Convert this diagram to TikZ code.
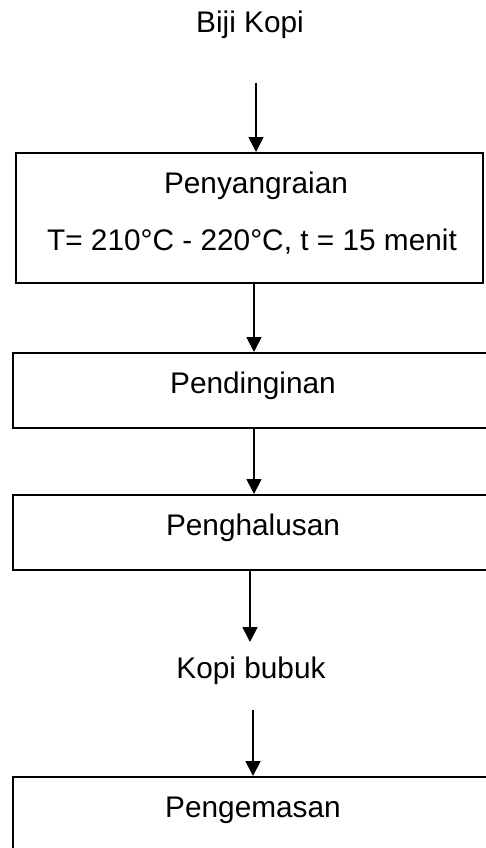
\documentclass[tikz,border=0pt]{standalone}
\usepackage{fontspec}
\setmainfont{Liberation Sans}
\usetikzlibrary{arrows.meta}
\begin{document}
\begin{tikzpicture}[x=1pt,y=-1pt,
  lbl/.style={anchor=base, inner sep=0pt, font=\fontsize{29.8}{35}\selectfont},
  stepbox/.style={draw, line width=2pt, inner sep=0pt},
  arr/.style={-{Triangle[width=15pt,length=15pt]}, line width=1.8pt}]
\useasboundingbox (0,0) rectangle (486,848);
\clip (0,0) rectangle (486,848);

% process boxes
\node[stepbox, minimum width=467pt, minimum height=130pt] (roast) at (249.5,218) {};
\node[stepbox, minimum width=487pt, minimum height=75pt]  (cool)  at (256.5,390.5) {};
\node[stepbox, minimum width=487pt, minimum height=75pt]  (grind) at (256.5,532.5) {};
\node[stepbox, minimum width=487pt, minimum height=123pt] (pack)  at (256.5,838.5) {};

% texts
\node[lbl] (biji)  at (250,33)  {Biji Kopi};
\node[lbl] (t1)    at (256,193) {Penyangraian};
\node[lbl] (t2)    at (252,250) {T= 210°C - 220°C, t = 15 menit};
\node[lbl] (t3)    at (253,393) {Pendinginan};
\node[lbl] (t4)    at (253,535) {Penghalusan};
\node[lbl] (kopi)  at (251,678) {Kopi bubuk};
\node[lbl] (t5)    at (253,817) {Pengemasan};

% connector ends
\coordinate (bijiout) at (256,83);
\coordinate (kopiin)  at (250,642);
\coordinate (kopiout) at (253,710);

% connectors
\draw[arr] (bijiout) -- (bijiout |- roast.north);
\draw[arr] (roast.south -| 254,0) -- (cool.north -| 254,0);
\draw[arr] (cool.south -| 254,0) -- (grind.north -| 254,0);
\draw[arr] (grind.south -| kopiin) -- (kopiin);
\draw[arr] (kopiout) -- (kopiout |- pack.north);
\end{tikzpicture}
\end{document}
